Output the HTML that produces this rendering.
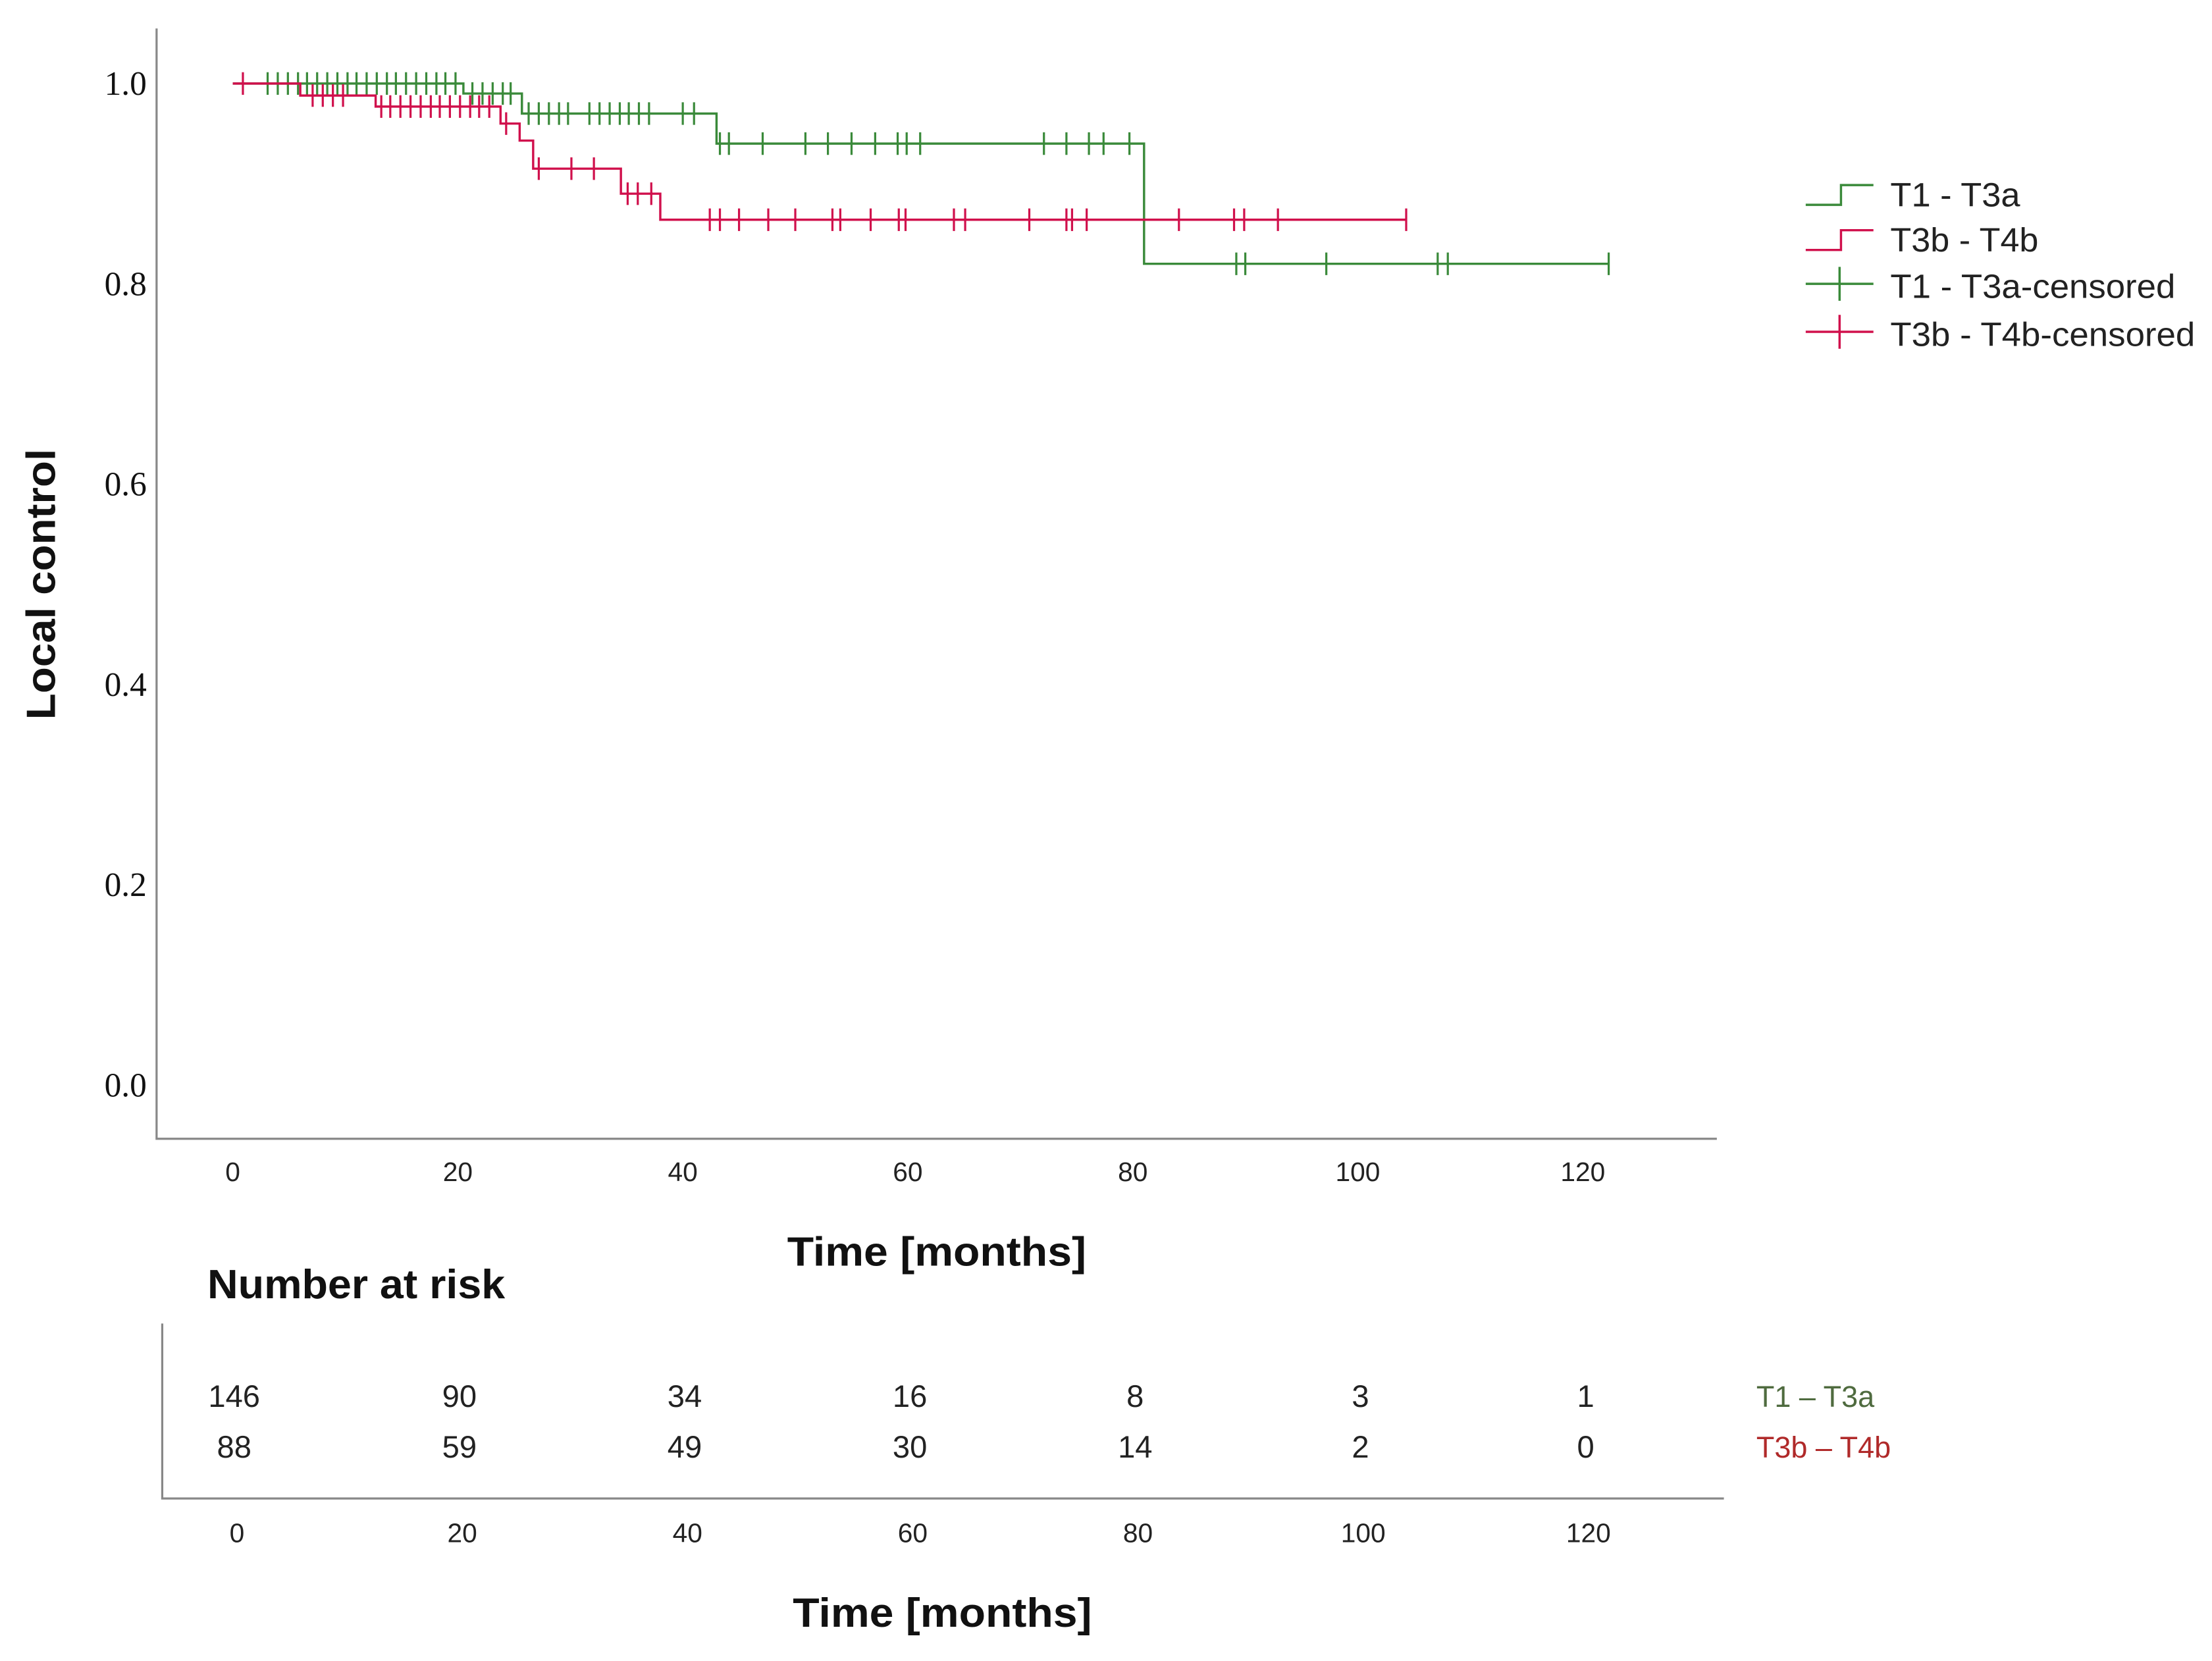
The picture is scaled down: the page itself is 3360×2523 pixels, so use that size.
<!DOCTYPE html>
<html><head><meta charset="utf-8"><style>
html,body{margin:0;padding:0;background:#fff;}
svg{display:block;}
</style></head><body>
<svg id="chart" width="3360" height="2523" viewBox="0 0 1568 1177" xmlns="http://www.w3.org/2000/svg" font-family="Liberation Sans, sans-serif">
<g id="main"></g>
<g id="legend">
  <g>
    <path d="M1280 145 H1305 V131 H1328" fill="none" stroke="#3a8a3a" stroke-width="1.6"/>
    <text x="1340" y="146" font-size="24" fill="#222" textLength="92" lengthAdjust="spacingAndGlyphs">T1 - T3a</text>
  </g>
  <g>
    <path d="M1280 177 H1305 V163 H1328" fill="none" stroke="#d0104c" stroke-width="1.6"/>
    <text x="1340" y="178" font-size="24" fill="#222" textLength="105" lengthAdjust="spacingAndGlyphs">T3b - T4b</text>
  </g>
  <g>
    <path d="M1280 201 H1328 M1304 189 V213" stroke="#3a8a3a" stroke-width="1.6"/>
    <text x="1340" y="211" font-size="24" fill="#222" textLength="202" lengthAdjust="spacingAndGlyphs">T1 - T3a-censored</text>
  </g>
  <g>
    <path d="M1280 235 H1328 M1304 223 V247" stroke="#d0104c" stroke-width="1.6"/>
    <text x="1340" y="245" font-size="24" fill="#222" textLength="216" lengthAdjust="spacingAndGlyphs">T3b - T4b-censored</text>
  </g>
</g>
<text transform="translate(39,414) rotate(-90)" text-anchor="middle" font-size="29" font-weight="bold" fill="#111" textLength="192" lengthAdjust="spacingAndGlyphs">Local control</text>
<text x="664" y="897" text-anchor="middle" font-size="29" font-weight="bold" fill="#111" textLength="212" lengthAdjust="spacingAndGlyphs">Time [months]</text>
<text x="147" y="920" font-size="29" font-weight="bold" fill="#111" textLength="211" lengthAdjust="spacingAndGlyphs">Number at risk</text>
<g id="risk"></g>
<text x="668" y="1153" text-anchor="middle" font-size="29" font-weight="bold" fill="#111" textLength="212" lengthAdjust="spacingAndGlyphs">Time [months]</text>
</svg>
<script>
const yTicks = [0.0, 0.2, 0.4, 0.6, 0.8, 1.0];
const xTicks = [0, 20, 40, 60, 80, 100, 120];
const greenEventTimes = [20.5, 25.7, 43.0, 81.0];
const greenEventSurv = [0.99, 0.97, 0.94, 0.82];
const greenEnd = 122.3;
const greenCensor = [3.1,4.0,4.9,5.8,6.6,7.5,8.4,9.3,10.2,11.0,11.9,12.8,13.7,14.5,15.4,16.3,17.2,18.1,18.9,19.8,21.3,22.2,23.1,24.0,24.7,26.3,27.2,28.1,29.0,29.8,31.7,32.6,33.5,34.4,35.2,36.1,37.0,40.0,41.0,43.3,44.1,47.1,50.9,52.9,55.0,57.1,59.1,59.9,61.1,72.1,74.1,76.1,77.4,79.7,89.2,90.0,97.2,107.1,108.0,122.3];
const redEventTimes = [6.0, 12.7, 23.8, 25.5, 26.7, 34.5, 38.0];
const redEventSurv = [0.988, 0.977, 0.96, 0.943, 0.915, 0.89, 0.864];
const redEnd = 104.3;
const redCensor = [0.9,7.1,8.0,8.9,9.8,13.2,14.0,14.9,15.8,16.7,17.6,18.4,19.3,20.2,21.1,21.9,22.8,24.3,27.2,30.1,32.1,35.1,36.0,37.2,42.4,43.3,45.0,47.6,50.0,53.3,54.0,56.7,59.2,59.8,64.1,65.1,70.8,74.1,74.6,75.9,84.1,89.0,89.9,92.9,104.3];
const riskTimes = [0, 20, 40, 60, 80, 100, 120];
const riskGreen = [146, 90, 34, 16, 8, 3, 1];
const riskRed = [88, 59, 49, 30, 14, 2, 0];

const NS = "http://www.w3.org/2000/svg";
const X = t => 165 + t * (1122 - 165) / 120;
const Y = s => 769 - s * 710;
const XR = t => 168 + t * (1126 - 168) / 120;
function mk(tag, attrs, parent) { const e = document.createElementNS(NS, tag); for (const k in attrs) e.setAttribute(k, attrs[k]); parent.appendChild(e); return e; }
const main = document.getElementById('main');
const risk = document.getElementById('risk');

let a = mk('path', {d: 'M111 20 V807 H1217', fill: 'none', stroke: '#888', 'stroke-width': 1.5}, main);


yTicks.forEach(v => {
  const t = mk('text', {x: 104, y: Y(v) + 8, 'text-anchor': 'end', 'font-size': 24, 'font-family': 'Liberation Serif, serif', fill: '#111'}, main);
  t.textContent = v.toFixed(1);
  
  
});
xTicks.forEach(v => {
  const t = mk('text', {x: X(v), y: 837, 'text-anchor': 'middle', 'font-size': 19, fill: '#222'}, main);
  t.textContent = v;
  
  
});

function surv(times, sv, t) { let s = 1; for (let i = 0; i < times.length; i++) if (t >= times[i]) s = sv[i]; return s; }
function drawCurve(times, sv, end, censor, color, name) {
  let d = 'M' + X(0) + ' ' + Y(1);
  for (let i = 0; i < times.length; i++) { d += ' H' + X(times[i]) + ' V' + Y(sv[i]); }
  d += ' H' + X(end);
  const p = mk('path', {d: d, fill: 'none', stroke: color, 'stroke-width': 1.6}, main);
  
  
  censor.forEach(c => {
    const y = Y(surv(times, sv, c));
    const m = mk('path', {d: 'M' + X(c) + ' ' + (y - 8) + ' V' + (y + 8), stroke: color, 'stroke-width': 1.5}, main);
    
    
  });
}
drawCurve(greenEventTimes, greenEventSurv, greenEnd, greenCensor, '#3a8a3a', 't1-t3a');
drawCurve(redEventTimes, redEventSurv, redEnd, redCensor, '#d0104c', 't3b-t4b');

let ra = mk('path', {d: 'M115 938 V1062 H1222', fill: 'none', stroke: '#888', 'stroke-width': 1.5}, risk);


riskTimes.forEach((t, i) => {
  const g = mk('text', {x: XR(t) - 2, y: 997, 'text-anchor': 'middle', 'font-size': 22, fill: '#222'}, risk);
  g.textContent = riskGreen[i];
  
  
  const r = mk('text', {x: XR(t) - 2, y: 1033, 'text-anchor': 'middle', 'font-size': 22, fill: '#222'}, risk);
  r.textContent = riskRed[i];
  
  
  const k = mk('text', {x: XR(t), y: 1093, 'text-anchor': 'middle', 'font-size': 19, fill: '#222'}, risk);
  k.textContent = t;
  
  
});
let l1 = mk('text', {x: 1245, y: 997, 'font-size': 21, fill: '#4f6b3f'}, risk);
l1.textContent = 'T1 – T3a';


let l2 = mk('text', {x: 1245, y: 1033, 'font-size': 21, fill: '#b02a2a'}, risk);
l2.textContent = 'T3b – T4b';


</script>
</body></html>
